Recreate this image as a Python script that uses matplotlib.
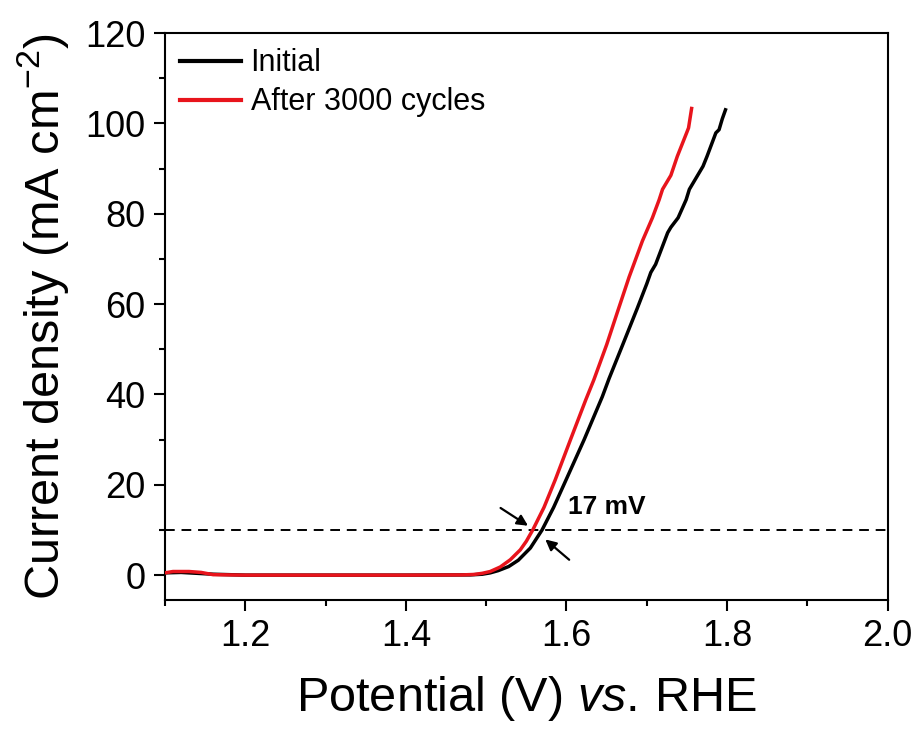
import matplotlib
matplotlib.use("Agg")
import matplotlib.pyplot as plt
from matplotlib.ticker import MultipleLocator

plt.rcParams['font.family'] = ['Liberation Sans', 'DejaVu Sans']
plt.rcParams['mathtext.fontset'] = 'custom'
plt.rcParams['mathtext.rm'] = 'Liberation Sans'
plt.rcParams['mathtext.it'] = 'Liberation Sans:italic'
plt.rcParams['mathtext.bf'] = 'Liberation Sans:bold'

# Initial (black)
v_init = [1.100, 1.120, 1.160, 1.200, 1.400, 1.480, 1.495, 1.505, 1.515, 1.528,
          1.540, 1.555, 1.5696, 1.584, 1.600, 1.622, 1.6446, 1.653, 1.670, 1.688,
          1.700, 1.705, 1.711, 1.726, 1.730, 1.739, 1.749, 1.753, 1.765, 1.770,
          1.775, 1.786, 1.790, 1.794, 1.798]
j_init = [0.5, 0.6, 0.2, 0.0, 0.0, 0.05, 0.2, 0.5, 1.0, 1.9,
          3.3, 6.0, 10.0, 15.0, 21.3, 30.0, 39.5, 43.5, 51.0, 59.0,
          64.5, 67.0, 68.8, 75.8, 77.0, 79.1, 83.1, 85.4, 89.0, 90.5,
          92.7, 97.9, 98.6, 101.0, 103.0]

# After 3000 cycles (red)
v_after = [1.100, 1.110, 1.130, 1.145, 1.160, 1.200, 1.300, 1.400, 1.470, 1.485,
           1.495, 1.505, 1.5175, 1.530, 1.5425, 1.550, 1.558, 1.572, 1.586, 1.605,
           1.624, 1.634, 1.650, 1.663, 1.678, 1.6946, 1.707, 1.7154, 1.7196, 1.730,
           1.738, 1.7496, 1.752, 1.7558]
j_after = [0.5, 0.8, 0.8, 0.6, 0.1, 0.0, 0.0, 0.0, 0.05, 0.15,
           0.4, 0.8, 1.8, 3.4, 5.6, 7.5, 10.0, 15.0, 21.1, 30.0,
           38.8, 43.2, 51.0, 58.0, 66.0, 74.0, 79.1, 83.1, 85.4, 88.5,
           92.7, 97.9, 99.0, 103.3]

ref_j = 10
annot_text = "17 mV"

fig = plt.figure(figsize=(9.18, 7.34), dpi=100)
ax = fig.add_axes([0.1797, 0.1826, 0.7873, 0.7724])

ax.axhline(ref_j, color='black', lw=1.4, ls=(0, (5, 3.5)), zorder=1)
ax.plot(v_init, j_init, color='black', lw=2.5, label='Initial', zorder=2)
ax.plot(v_after, j_after, color='#e8141c', lw=2.5, label='After 3000 cycles', zorder=3)

ax.set_xlim(1.1, 2.0)
ax.set_ylim(-5.5, 120)
ax.xaxis.set_major_locator(MultipleLocator(0.2))
ax.xaxis.set_minor_locator(MultipleLocator(0.1))
ax.yaxis.set_major_locator(MultipleLocator(20))
ax.yaxis.set_minor_locator(MultipleLocator(10))
ax.tick_params(which='major', direction='out', length=8, width=1.5, labelsize=26, pad=6)
ax.tick_params(which='minor', direction='out', length=4, width=1.5)
for s in ax.spines.values():
    s.set_linewidth(1.5)

ax.set_xlabel('Potential (V) $\\mathit{vs.}\\,$RHE', fontsize=35, labelpad=14)
ax.set_ylabel('Current density (mA cm$^{\\mathregular{-2}}$)', fontsize=35, labelpad=10)

leg = ax.legend(loc='upper left', frameon=False, fontsize=22, handlelength=2.0,
                handletextpad=0.3, labelspacing=0.3, borderaxespad=0.2, borderpad=0.3)
for line in leg.get_lines():
    line.set_linewidth(3)

ax.text(1.6025, 15.0, annot_text, fontsize=19, fontweight='bold', ha='left', va='center')
ax.annotate('', xy=(1.555, 10.6), xytext=(1.515, 15.2),
            arrowprops=dict(arrowstyle='-|>', color='black', lw=1.6, mutation_scale=16))
ax.annotate('', xy=(1.571, 8.3), xytext=(1.606, 3.0),
            arrowprops=dict(arrowstyle='-|>', color='black', lw=1.6, mutation_scale=16))

fig.savefig('out.png', dpi=100)
